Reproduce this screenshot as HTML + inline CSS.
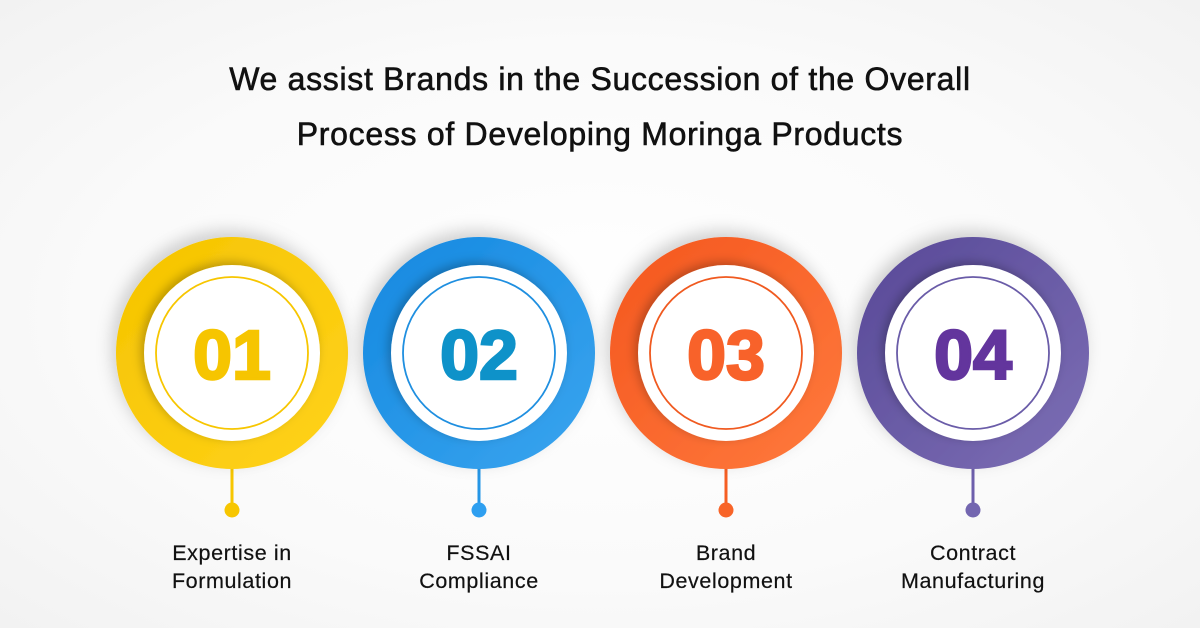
<!DOCTYPE html>
<html><head><meta charset="utf-8"><style>
html,body{margin:0;padding:0}
body{width:1200px;height:628px;overflow:hidden;background:radial-gradient(ellipse at center,#ffffff 0%,#fafafa 60%,#f2f2f2 100%);font-family:"Liberation Sans",sans-serif;position:relative}
.title{position:absolute;left:0;width:1200px;text-align:center;font-size:32px;letter-spacing:0.7px;color:#111;line-height:55px;top:52px;-webkit-text-stroke:0.6px #111}
.lbl{position:absolute;width:260px;text-align:center;font-size:21.5px;letter-spacing:0.6px;color:#111;line-height:28px;top:539px;-webkit-text-stroke:0.2px #111}
</style></head><body>
<div class="title">We assist Brands in the Succession of the Overall<br>Process of Developing Moringa Products</div>
<svg width="1200" height="628" style="position:absolute;left:0;top:0">
<defs>
<filter id="sh" x="-30%" y="-30%" width="160%" height="160%"><feDropShadow dx="-4" dy="-6" stdDeviation="8" flood-color="#000" flood-opacity="0.18"/></filter>
<filter id="sh2" x="-30%" y="-30%" width="160%" height="160%"><feDropShadow dx="-3" dy="-3" stdDeviation="5" flood-color="#000" flood-opacity="0.25"/></filter>
<linearGradient id="g1" x1="0" y1="0" x2="1" y2="1"><stop offset="0" stop-color="#f5c400"/><stop offset="1" stop-color="#ffd21a"/></linearGradient>
<linearGradient id="g2" x1="0" y1="0" x2="1" y2="1"><stop offset="0" stop-color="#1488e0"/><stop offset="1" stop-color="#3aa5ef"/></linearGradient>
<linearGradient id="g3" x1="0" y1="0" x2="1" y2="1"><stop offset="0" stop-color="#f4561e"/><stop offset="1" stop-color="#ff7a3d"/></linearGradient>
<linearGradient id="g4" x1="0" y1="0" x2="1" y2="1"><stop offset="0" stop-color="#574897"/><stop offset="1" stop-color="#7d6fb5"/></linearGradient>
</defs>
<g>
<line x1="232" y1="460" x2="232" y2="510" stroke="#f7c600" stroke-width="3"/><circle cx="232" cy="510" r="7.5" fill="#f7c600"/>
<circle cx="232" cy="353" r="116" fill="url(#g1)" filter="url(#sh)"/>
<circle cx="232" cy="353" r="88" fill="#fff" filter="url(#sh2)"/>
<circle cx="232" cy="353" r="76" fill="none" stroke="#f7c600" stroke-width="1.8"/>
<text x="232" y="379" text-anchor="middle" font-family="Liberation Sans" font-weight="bold" font-size="70" fill="#f6c500" stroke="#f6c500" stroke-width="2.5">01</text>
</g>
<g>
<line x1="479" y1="460" x2="479" y2="510" stroke="#2596e6" stroke-width="3"/><circle cx="479" cy="510" r="7.5" fill="#2e9ff0"/>
<circle cx="479" cy="353" r="116" fill="url(#g2)" filter="url(#sh)"/>
<circle cx="479" cy="353" r="88" fill="#fff" filter="url(#sh2)"/>
<circle cx="479" cy="353" r="76" fill="none" stroke="#1f8fe0" stroke-width="1.8"/>
<text x="479" y="379" text-anchor="middle" font-family="Liberation Sans" font-weight="bold" font-size="70" fill="#0e92c9" stroke="#0e92c9" stroke-width="2.5">02</text>
</g>
<g>
<line x1="726" y1="460" x2="726" y2="510" stroke="#f65e23" stroke-width="3"/><circle cx="726" cy="510" r="7.5" fill="#f86428"/>
<circle cx="726" cy="353" r="116" fill="url(#g3)" filter="url(#sh)"/>
<circle cx="726" cy="353" r="88" fill="#fff" filter="url(#sh2)"/>
<circle cx="726" cy="353" r="76" fill="none" stroke="#f05a20" stroke-width="1.8"/>
<text x="726" y="379" text-anchor="middle" font-family="Liberation Sans" font-weight="bold" font-size="70" fill="#f8622a" stroke="#f8622a" stroke-width="2.5">03</text>
</g>
<g>
<line x1="973" y1="460" x2="973" y2="510" stroke="#6d5fac" stroke-width="3"/><circle cx="973" cy="510" r="7.5" fill="#7366b0"/>
<circle cx="973" cy="353" r="116" fill="url(#g4)" filter="url(#sh)"/>
<circle cx="973" cy="353" r="88" fill="#fff" filter="url(#sh2)"/>
<circle cx="973" cy="353" r="76" fill="none" stroke="#6a5ca8" stroke-width="1.8"/>
<text x="973" y="379" text-anchor="middle" font-family="Liberation Sans" font-weight="bold" font-size="70" fill="#63359d" stroke="#63359d" stroke-width="2.5">04</text>
</g>
</svg>
<div class="lbl" style="left:102px">Expertise in<br>Formulation</div>
<div class="lbl" style="left:349px">FSSAI<br>Compliance</div>
<div class="lbl" style="left:596px">Brand<br>Development</div>
<div class="lbl" style="left:843px">Contract<br>Manufacturing</div>
</body></html>
